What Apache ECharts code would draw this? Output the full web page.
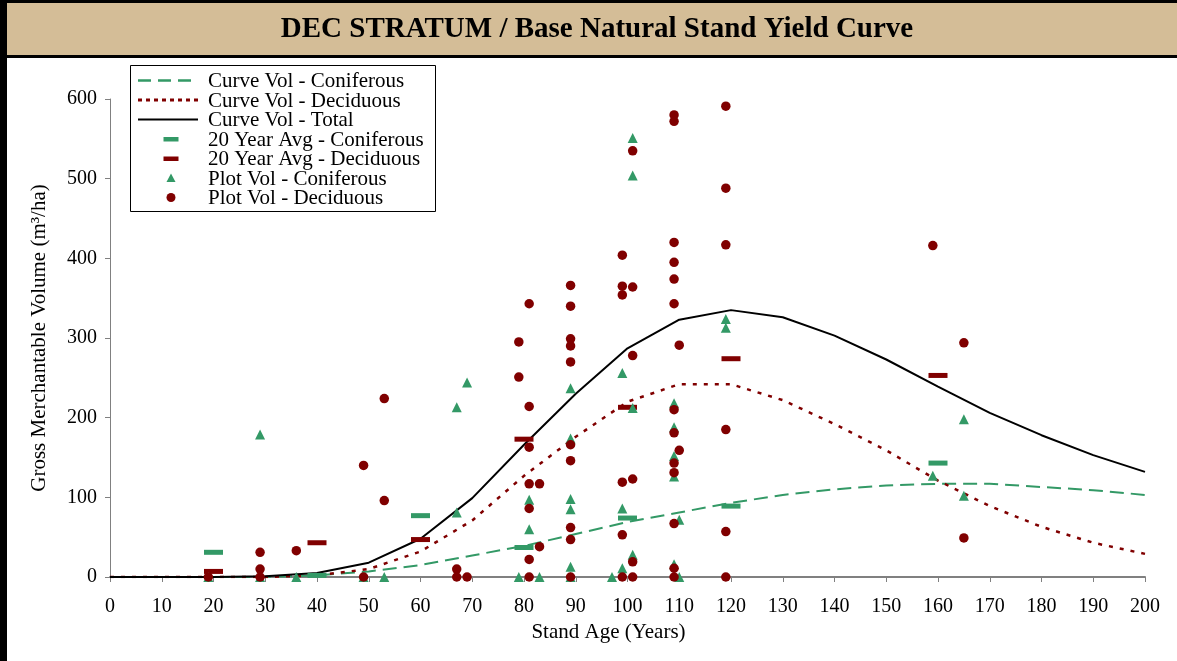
<!DOCTYPE html>
<html><head><meta charset="utf-8">
<script src="https://cdn.jsdelivr.net/npm/echarts@6/dist/echarts.min.js"></script>
<style>html,body{margin:0;padding:0;background:#fff}#c{width:1177px;height:661px}</style>
</head><body><div id="c"></div><script>
// ---- data ----
const curveAges  = [0,10,20,30,40,50,60,70,80,90,100,110,120,130,140,150,160,170,180,190,200];
const curveCon   = [0,0,0,0,2,7,15,27,39,54,69,81,93,103,110,115,117,117,113,109,103];
const curveDec   = [0,0,0,0,2,10,32,71,127,176,220,242,242,222,192,159,121,89,63,43,29];
const curveTotal = [0,0,0,1,5,18,48,99,166,230,287,323,335,326,303,273,239,206,178,153,132];

const avgAges = [20,40,60,80,100,120,160];
const avgCon  = [31,2,77,37,74,89,143];
const avgDec  = [7,43,47,173,213,274,253];

const conAge = [19,29,29,36,49,53,67,67,69,79,81,81,83,89,89,89,89,89,89,97,99,99,99,101,101,101,101,109,109,109,109,110,109,110,119,119,159,165,165];
const conVol = [0,179,0,0,0,0,213,81,244,0,97,60,0,237,174,98,85,13,0,0,256,86,11,551,504,212,28,218,188,152,126,72,16,0,324,313,127,198,102];

const decAge = [19,29,29,29,36,49,49,53,53,67,67,69,79,79,81,81,81,81,83,81,83,81,81,89,89,89,89,89,89,89,89,89,89,99,99,99,99,99,99,101,101,101,101,101,101,109,109,109,109,109,109,110,109,109,110,109,109,109,109,109,119,119,119,119,119,119,159,165,165];
const decVol = [0,31,10,0,33,140,0,224,96,10,0,0,295,251,343,214,163,117,117,86,38,22,0,366,340,299,290,270,166,146,62,47,0,404,365,354,119,53,0,535,364,278,123,19,0,580,572,420,395,374,343,291,210,181,159,143,131,67,11,0,591,488,417,185,57,0,416,294,49];

const xTicks = {min:0,max:200,step:10};
const yTicks = {min:0,max:600,step:100};
const seriesNames = ['Curve Vol - Coniferous','Curve Vol - Deciduous','Curve Vol - Total','20 Year Avg - Coniferous','20 Year Avg - Deciduous','Plot Vol - Coniferous','Plot Vol - Deciduous'];
const titleText = 'DEC STRATUM / Base Natural Stand Yield Curve';

// ---- chart ----
const FONT = '"Liberation Serif","Times New Roman",serif';
const GREEN = '#339966', RED = '#800000';
const pairs = (a,b)=>a.map((v,i)=>[v,b[i]]);

const chart = echarts.init(document.getElementById('c'));

const legendRows = [
  {k:'line', color:GREEN, dash:[13,7], w:2.5},
  {k:'line', color:RED, dash:[4,4], w:3},
  {k:'line', color:'#000', dash:null, w:2},
  {k:'bar', color:GREEN},
  {k:'bar', color:RED},
  {k:'tri', color:GREEN},
  {k:'dot', color:RED}
];
const legendEls = [{type:'rect', shape:{x:130.5,y:65.5,width:305,height:146}, style:{fill:'#fff',stroke:'#000',lineWidth:1}}];
legendRows.forEach((r,i)=>{
  const y = 80.5 + i*19.5;
  if(r.k==='line') legendEls.push({type:'line', shape:{x1:138,y1:y,x2:198,y2:y}, style:{stroke:r.color,lineWidth:r.w,lineDash:r.dash}});
  if(r.k==='bar') legendEls.push({type:'rect', shape:{x:163.5,y:y-2,width:15,height:4.5}, style:{fill:r.color}});
  if(r.k==='tri') legendEls.push({type:'polygon', shape:{points:[[171,y-4.5],[175.5,y+4],[166.5,y+4]]}, style:{fill:r.color}});
  if(r.k==='dot') legendEls.push({type:'circle', shape:{cx:171,cy:y,r:4.5}, style:{fill:r.color}});
  legendEls.push({type:'text', x:208, y:y+1, style:{text:seriesNames[i], font:'21px '+FONT, fill:'#000', verticalAlign:'middle', align:'left'}});
});

const option = {
  backgroundColor:'#fff',
  animation:false,
  textStyle:{fontFamily:FONT},
  grid:{left:110,right:32,top:99,bottom:84,containLabel:false},
  xAxis:{type:'value',min:xTicks.min,max:xTicks.max,interval:xTicks.step,
    name:'Stand Age (Years)',nameLocation:'middle',nameGap:45,
    nameTextStyle:{fontFamily:FONT,fontSize:21,color:'#000',padding:[0,38,0,0]},
    axisLine:{show:true,onZero:false,lineStyle:{color:'#808080',width:2}},
    axisTick:{show:true,inside:false,length:5,lineStyle:{color:'#808080',width:1}},
    axisLabel:{fontFamily:FONT,fontSize:20,color:'#000',margin:20},
    splitLine:{show:false}},
  yAxis:{type:'value',min:yTicks.min,max:yTicks.max,interval:yTicks.step,
    name:'Gross Merchantable Volume (m³/ha)',nameLocation:'middle',nameGap:60,nameRotate:90,
    nameTextStyle:{fontFamily:FONT,fontSize:21,color:'#000'},
    axisLine:{show:true,onZero:false,lineStyle:{color:'#808080',width:1}},
    axisTick:{show:true,inside:false,length:5,lineStyle:{color:'#808080',width:1}},
    axisLabel:{fontFamily:FONT,fontSize:20,color:'#000',margin:13},
    splitLine:{show:false}},
  graphic:[
    {type:'rect',shape:{x:0,y:0,width:1177,height:3},style:{fill:'#000'},z:100},
    {type:'rect',shape:{x:0,y:0,width:7,height:661},style:{fill:'#000'},z:100},
    {type:'rect',shape:{x:7,y:3,width:1170,height:52},style:{fill:'#D4BD97'},z:100},
    {type:'rect',shape:{x:7,y:55,width:1170,height:3},style:{fill:'#000'},z:100},
    {type:'text',x:597,y:30,style:{text:titleText,font:'bold 29px '+FONT,fill:'#000',align:'center',verticalAlign:'middle'},z:101},
    {type:'group',z:100,children:legendEls}
  ],
  series:[
    {name:seriesNames[0],type:'line',data:pairs(curveAges,curveCon),symbol:'none',lineStyle:{color:GREEN,width:2,type:[14,7]},itemStyle:{color:GREEN},z:2},
    {name:seriesNames[1],type:'line',data:pairs(curveAges,curveDec),symbol:'none',lineStyle:{color:RED,width:2.5,type:[4,7]},itemStyle:{color:RED},z:2},
    {name:seriesNames[2],type:'line',data:pairs(curveAges,curveTotal),symbol:'none',lineStyle:{color:'#000',width:2},itemStyle:{color:'#000'},z:2},
    {name:seriesNames[3],type:'scatter',data:pairs(avgAges,avgCon),symbol:'rect',symbolSize:[19,5],itemStyle:{color:GREEN,opacity:1},clip:false,z:3},
    {name:seriesNames[4],type:'scatter',data:pairs(avgAges,avgDec),symbol:'rect',symbolSize:[19,5],itemStyle:{color:RED,opacity:1},clip:false,z:3},
    {name:seriesNames[5],type:'scatter',data:pairs(conAge,conVol),symbol:'triangle',symbolSize:10,itemStyle:{color:GREEN,opacity:1},clip:false,z:4},
    {name:seriesNames[6],type:'scatter',data:pairs(decAge,decVol),symbol:'circle',symbolSize:9.5,itemStyle:{color:RED,opacity:1},clip:false,z:5}
  ]
};
chart.setOption(option);
</script></body></html>
